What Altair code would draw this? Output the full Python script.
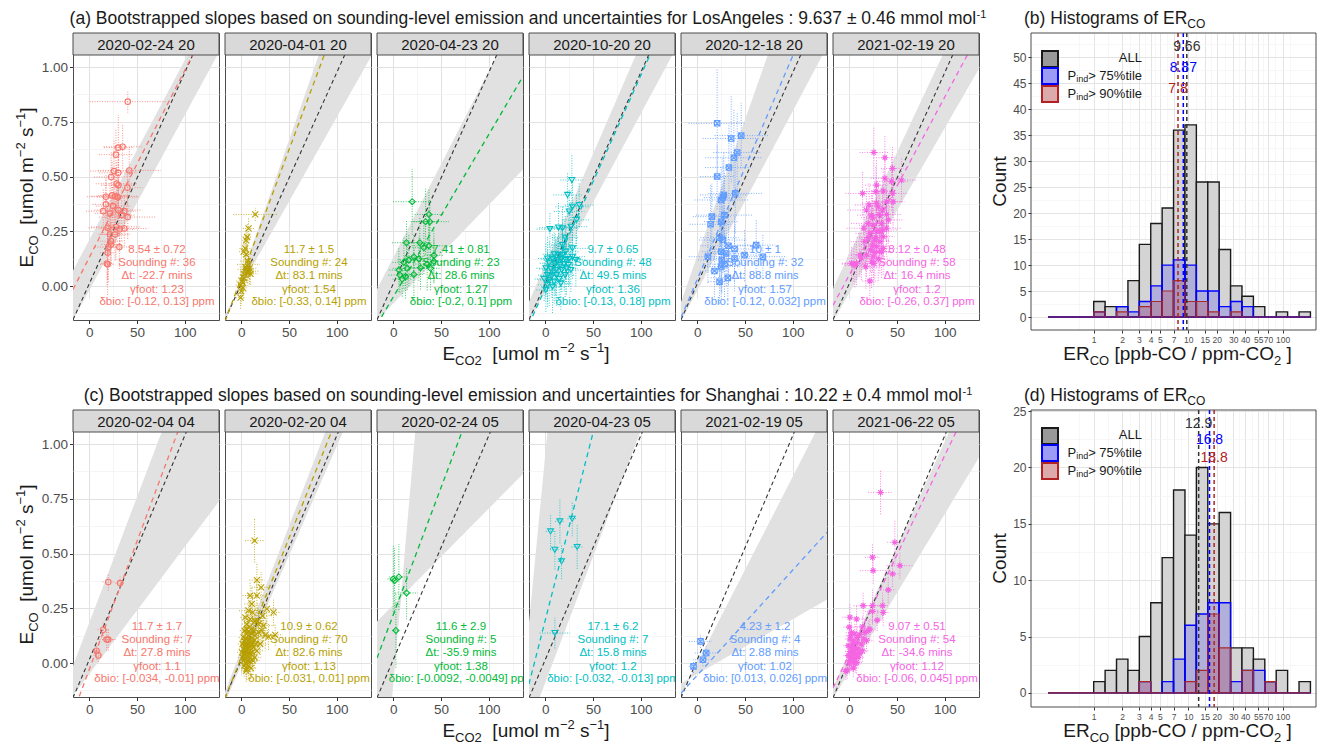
import altair as alt
import pandas as pd
import numpy as np

FONT = "Liberation Sans"
COLORS = ["#F8766D", "#B79F00", "#00BA38", "#00BFC4", "#619CFF", "#F564E3"]
SHAPES = ["circle", "M-1,-1L1,1M-1,1L1,-1", "diamond", "triangle-down",
          "M-1,-1L1,-1L1,1L-1,1ZM-1,-1L1,1M-1,1L1,-1",
          "M-1,0L1,0M0,-1L0,1M-0.7,-0.7L0.7,0.7M-0.7,0.7L0.7,-0.7"]
SHAPE_SIZES = [30, 36, 36, 34, 30, 42]

# ---------------- Los Angeles (row a) ----------------
LA_TITLE = "(a) Bootstrapped slopes based on sounding-level emission and uncertainties for LosAngeles : 9.637 \u00b1 0.46 mmol mol"
LA_DATES = ["2020-02-24 20", "2020-04-01 20", "2020-04-23 20", "2020-10-20 20", "2020-12-18 20", "2021-02-19 20"]
LA_BLACK = (0.009637, 0.01)
LA_SLOPE = [0.00854, 0.0117, 0.00741, 0.0097, 0.0102, 0.00812]
LA_ICPT = [0.13, 0.037, -0.05, -0.01, 0.03, 0.05]
LA_FAN = [[(0.0082, 0.21), (0.0080, -0.02)], [(0.0125, 0.04), (0.0077, 0.0)],
          [(0.0085, 0.13), (0.0045, -0.08)], [(0.01006, 0.099), (0.0081, -0.024)],
          [(0.0124, 0.138), (0.0082, -0.022)], [(0.00928, 0.146), (0.00754, -0.033)]]
LA_ANN = [["8.54 \u00b1 0.72", "Sounding #: 36", "\u0394t: -22.7 mins", "\u03b3foot: 1.23", "\u03b4bio: [-0.12, 0.13] ppm"],
          ["11.7 \u00b1 1.5", "Sounding #: 24", "\u0394t: 83.1 mins", "\u03b3foot: 1.54", "\u03b4bio: [-0.33, 0.14] ppm"],
          ["7.41 \u00b1 0.81", "Sounding #: 23", "\u0394t: 28.6 mins", "\u03b3foot: 1.27", "\u03b4bio: [-0.2, 0.1] ppm"],
          ["9.7 \u00b1 0.65", "Sounding #: 48", "\u0394t: 49.5 mins", "\u03b3foot: 1.36", "\u03b4bio: [-0.13, 0.18] ppm"],
          ["10 \u00b1 1", "Sounding #: 32", "\u0394t: 88.8 mins", "\u03b3foot: 1.57", "\u03b4bio: [-0.12, 0.032] ppm"],
          ["8.12 \u00b1 0.48", "Sounding #: 58", "\u0394t: 16.4 mins", "\u03b3foot: 1.2", "\u03b4bio: [-0.26, 0.37] ppm"]]
LA1 = [(40.4,0.842,40,0.05),(30.5,0.632,15,0.15),(35.0,0.636,20,0.10),(28.0,0.600,18,0.12),(42.0,0.528,33,0.10),(26.0,0.525,25,0.14),(30.5,0.517,20,0.08),(23.0,0.498,18,0.12),(28.8,0.467,22,0.10),(30.5,0.460,18,0.15),(40.0,0.449,16,0.08),(17.5,0.408,20,0.10),(27.0,0.410,25,0.12),(24.0,0.414,15,0.16),(30.0,0.406,22,0.10),(17.5,0.373,14,0.12),(14.7,0.342,18,0.10),(21.8,0.332,16,0.14),(30.5,0.347,25,0.12),(36.8,0.342,12,0.08),(40.4,0.315,30,0.10),(34.0,0.324,14,0.12),(19.3,0.266,20,0.12),(28.0,0.270,26,0.15),(32.0,0.259,16,0.10),(36.8,0.263,25,0.08),(21.8,0.236,12,0.14),(22.8,0.190,10,0.10),(20.0,0.178,14,0.16),(31.6,0.178,14,0.10),(19.3,0.152,8,0.12),(18.6,0.103,6,0.10),(19.3,0.099,8,0.14),(22.8,0.205,12,0.10),(27.0,0.236,16,0.12),(25.0,0.365,18,0.10)]
LA2 = [(14.7,0.327,23,0.03),(7.7,0.263,6,0.05),(6.3,0.224,5,0.06),(5.2,0.209,4,0.05),(4.2,0.172,6,0.06),(2.8,0.157,5,0.05),(5.2,0.145,6,0.06),(7.0,0.114,8,0.05),(7.7,0.099,12,0.06),(5.2,0.076,9,0.05),(8.7,0.068,10,0.06),(6.3,0.065,6,0.05),(7.0,0.061,8,0.06),(3.5,0.053,5,0.05),(0.7,0.023,6,0.05),(-0.7,0.005,5,0.05),(1.7,0.015,5,0.05),(0.0,-0.023,6,0.06),(-0.7,-0.053,5,0.05),(2.8,0.038,6,0.06),(9.8,0.056,8,0.05),(4.5,0.087,6,0.06),(1.7,-0.008,5,0.05),(8.7,0.081,7,0.05)]
LA3 = [(19.9,0.385,20,0.15),(37.4,0.327,15,0.12),(38.4,0.294,20,0.10),(33.9,0.294,12,0.15),(13.9,0.198,15,0.10),(27.9,0.198,12,0.12),(37.4,0.184,18,0.10),(32.1,0.175,12,0.12),(21.6,0.134,10,0.10),(16.4,0.119,12,0.12),(26.9,0.124,15,0.10),(42.6,0.140,10,0.12),(42.6,0.113,12,0.10),(35.6,0.100,15,0.12),(39.1,0.081,10,0.10),(11.2,0.108,12,0.12),(5.9,0.073,10,0.10),(7.0,0.050,12,0.08),(14.6,0.081,15,0.10),(21.6,0.053,10,0.12),(28.6,0.084,12,0.10),(9.4,0.032,10,0.08),(12.9,0.043,8,0.10)]
LA4 = [(27.9,0.484,12,0.12),(23.4,0.416,15,0.10),(28.6,0.362,18,0.12),(35.6,0.370,15,0.10),(32.8,0.302,14,0.12),(25.1,0.340,16,0.10),(4.9,0.260,14,0.08),(13.9,0.267,20,0.12),(18.1,0.264,15,0.10),(26.9,0.271,18,0.12),(20.9,0.221,14,0.10),(18.1,0.187,12,0.12),(28.6,0.172,16,0.10),(21.6,0.157,14,0.12),(2.4,0.126,10,0.10),(7.7,0.123,12,0.12),(12.9,0.119,14,0.10),(16.4,0.123,12,0.14),(21.6,0.119,15,0.10),(25.1,0.123,12,0.12),(4.2,0.104,10,0.10),(10.5,0.100,12,0.14),(15.3,0.096,14,0.10),(19.9,0.100,12,0.12),(24.4,0.096,10,0.10),(0.7,0.081,10,0.12),(5.9,0.078,12,0.10),(11.2,0.073,14,0.14),(17.4,0.073,12,0.10),(2.4,0.050,10,0.12),(7.0,0.047,12,0.10),(11.9,0.050,10,0.14),(-1.1,0.032,10,0.10),(4.2,0.028,12,0.12),(9.4,0.020,10,0.10),(14.6,0.032,12,0.12),(2.4,0.005,10,0.10),(7.7,-0.003,12,0.12),(0.7,-0.018,10,0.10),(28.6,0.134,14,0.10),(32.1,0.119,12,0.12),(14.0,0.142,12,0.10),(18.1,0.142,14,0.12),(9.4,0.145,12,0.10),(22.3,0.081,12,0.12),(26.9,0.073,14,0.10),(16.4,0.012,12,0.12),(20.9,0.050,10,0.10)]
LA5 = [(20.9,0.743,30,0.25),(35.6,0.674,30,0.20),(46.1,0.687,28,0.15),(41.9,0.610,25,0.18),(38.4,0.586,30,0.22),(33.2,0.541,25,0.20),(20.9,0.500,18,0.15),(39.8,0.423,28,0.18),(27.9,0.416,25,0.20),(25.1,0.393,28,0.15),(26.9,0.404,20,0.18),(28.6,0.324,30,0.20),(15.3,0.317,20,0.15),(14.0,0.282,22,0.18),(25.1,0.294,18,0.15),(23.4,0.221,20,0.18),(26.9,0.210,25,0.15),(32.8,0.184,30,0.18),(39.1,0.169,25,0.15),(61.8,0.187,20,0.12),(68.8,0.134,25,0.10),(49.6,0.142,20,0.12),(39.1,0.126,22,0.15),(25.1,0.157,20,0.18),(25.8,0.119,25,0.15),(11.2,0.134,20,0.12),(28.6,0.100,18,0.15),(18.1,0.069,15,0.12),(23.4,0.020,12,0.10),(32.1,0.038,18,0.12),(25.1,0.089,20,0.15),(30.4,0.149,22,0.15)]
LA6 = [(25.8,0.610,15,0.12),(37.4,0.586,12,0.10),(45.4,0.537,12,0.10),(37.4,0.492,15,0.10),(44.3,0.477,18,0.12),(54.8,0.484,15,0.10),(14.0,0.423,18,0.10),(27.9,0.431,15,0.12),(35.6,0.434,12,0.10),(45.4,0.423,15,0.10),(46.1,0.385,12,0.12),(28.6,0.378,15,0.10),(34.9,0.347,12,0.12),(18.1,0.347,20,0.10),(23.4,0.324,15,0.12),(31.4,0.327,12,0.10),(39.1,0.327,15,0.12),(19.9,0.286,18,0.10),(25.1,0.278,15,0.12),(33.9,0.286,12,0.10),(39.1,0.264,15,0.12),(28.6,0.249,12,0.10),(21.6,0.241,15,0.12),(35.6,0.226,12,0.10),(26.9,0.210,15,0.12),(32.1,0.203,12,0.10),(24.4,0.187,15,0.12),(28.6,0.180,12,0.10),(35.6,0.172,15,0.12),(22.3,0.165,12,0.10),(26.9,0.154,15,0.12),(32.1,0.157,12,0.10),(25.1,0.134,15,0.12),(30.4,0.124,12,0.10),(4.2,0.100,12,0.08),(5.9,0.094,10,0.10),(2.4,0.104,10,0.08),(7.7,0.104,12,0.10),(17.4,0.088,15,0.10),(25.8,0.104,12,0.10),(21.6,0.023,8,0.08),(11.2,0.142,12,0.10),(16.4,0.203,15,0.12),(32.1,0.249,12,0.10),(40.9,0.302,15,0.12),(20.9,0.370,15,0.10),(28.6,0.461,12,0.12),(18.1,0.142,12,0.10),(23.4,0.111,15,0.12),(27.9,0.221,12,0.10),(34.9,0.256,15,0.12),(15.3,0.264,18,0.10),(19.9,0.221,12,0.12),(39.1,0.385,15,0.10),(24.4,0.312,12,0.12),(30.4,0.362,15,0.10),(33.9,0.157,12,0.12),(12.9,0.127,15,0.10)]

# ---------------- Shanghai (row c) ----------------
SH_TITLE = "(c) Bootstrapped slopes based on sounding-level emission and uncertainties for Shanghai : 10.22 \u00b1 0.4 mmol mol"
SH_DATES = ["2020-02-04 04", "2020-02-20 04", "2020-02-24 05", "2020-04-23 05", "2021-02-19 05", "2021-06-22 05"]
SH_BLACK = (0.01022, 0.015)
SH_SLOPE = [0.0117, 0.0109, 0.0116, 0.0171, 0.0048, 0.00907]
SH_ICPT = [-0.03, 0.025, 0.22, 0.195, -0.056, 0.04]
SH_FAN = [[(0.01148, 0.183), (0.0058, -0.05)], [(0.0113, 0.06), (0.0100, -0.01)],
          [(0.05, -0.1), (0.0044, 0.265)], [(0.045, 0.95), (0.0115, -0.09)],
          [(0.0085, 0.0), (0.0025, -0.05)], [(0.0096, 0.05), (0.0072, -0.04)]]
SH_ANN = [["11.7 \u00b1 1.7", "Sounding #: 7", "\u0394t: 27.8 mins", "\u03b3foot: 1.1", "\u03b4bio: [-0.034, -0.01] ppm"],
          ["10.9 \u00b1 0.62", "Sounding #: 70", "\u0394t: 82.6 mins", "\u03b3foot: 1.13", "\u03b4bio: [-0.031, 0.01] ppm"],
          ["11.6 \u00b1 2.9", "Sounding #: 5", "\u0394t: -35.9 mins", "\u03b3foot: 1.38", "\u03b4bio: [-0.0092, -0.0049] ppm"],
          ["17.1 \u00b1 6.2", "Sounding #: 7", "\u0394t: 15.8 mins", "\u03b3foot: 1.2", "\u03b4bio: [-0.032, -0.013] ppm"],
          ["4.23 \u00b1 1.2", "Sounding #: 4", "\u0394t: 2.88 mins", "\u03b3foot: 1.02", "\u03b4bio: [0.013, 0.026] ppm"],
          ["9.07 \u00b1 0.51", "Sounding #: 54", "\u0394t: -34.6 mins", "\u03b3foot: 1.12", "\u03b4bio: [-0.06, 0.045] ppm"]]
SH1 = [(20.0,0.370,6,0.04),(32.3,0.365,5,0.03),(14.7,0.152,6,0.04),(18.2,0.107,10,0.05),(20.0,0.107,6,0.05),(7.7,0.056,5,0.04),(9.5,0.035,5,0.03)]
SH2 = [(14.0,0.559,10,0.10),(16.4,0.379,8,0.08),(20.9,0.346,10,0.07),(9.4,0.308,8,0.06),(16.4,0.308,10,0.07),(33.9,0.231,8,0.06),(7.7,0.239,10,0.08),(22.3,0.216,12,0.06),(17.4,0.193,10,0.07),(35.6,0.129,8,0.05),(18.1,0.140,10,0.06),(4.2,0.209,5,0.05),(5.9,0.178,5,0.06),(8.4,0.163,6,0.05),(3.5,0.148,5,0.06),(7.0,0.140,6,0.05),(11.2,0.133,7,0.06),(2.4,0.117,5,0.05),(4.9,0.110,5,0.06),(7.7,0.102,6,0.05),(10.5,0.099,7,0.06),(14.0,0.105,8,0.05),(1.4,0.087,5,0.05),(4.2,0.084,5,0.06),(6.6,0.079,6,0.05),(9.4,0.075,6,0.06),(12.9,0.072,7,0.05),(2.4,0.064,5,0.05),(4.9,0.056,5,0.06),(7.7,0.053,6,0.05),(11.2,0.049,7,0.06),(3.5,0.041,5,0.05),(5.9,0.034,5,0.06),(8.4,0.029,6,0.05),(4.2,0.018,5,0.05),(7.0,0.011,6,0.06),(9.4,0.008,6,0.05),(4.9,-0.004,5,0.05),(7.7,-0.012,6,0.06),(5.9,-0.027,5,0.05),(12.9,0.148,7,0.06),(14.6,0.193,8,0.07),(11.2,0.270,8,0.08),(26.9,0.247,10,0.07),(21.6,0.148,8,0.06),(25.1,0.126,10,0.06),(15.3,0.087,8,0.05),(16.4,0.056,8,0.05),(28.6,0.120,10,0.06),(18.1,0.178,8,0.07),(0.7,0.049,5,0.05),(2.4,0.011,5,0.05),(10.1,-0.023,6,0.05),(14.0,0.026,7,0.05),(5.9,0.155,5,0.06),(9.4,0.201,6,0.07),(11.9,0.231,7,0.08),(23.4,0.171,10,0.07),(19.9,0.087,8,0.05),(3.5,0.099,5,0.05),(6.3,0.069,5,0.05),(8.7,0.044,6,0.05),(10.8,0.087,7,0.06),(1.4,0.026,5,0.05),(7.3,0.125,6,0.06),(12.2,0.011,7,0.05),(3.1,-0.012,5,0.05),(5.2,-0.035,5,0.05),(14.6,0.125,8,0.06)]
SH3 = [(0.0,0.384,6,0.15),(5.9,0.393,10,0.15),(14.0,0.320,12,0.12),(2.8,0.149,4,0.17),(1.4,0.376,5,0.15)]
SH4 = [(5.6,0.601,5,0.08),(15.4,0.647,5,0.10),(28.3,0.659,5,0.08),(10.1,0.517,5,0.09),(17.1,0.464,4,0.08),(33.5,0.530,6,0.10),(10.1,0.137,16,0.07)]
SH5 = [(3.5,0.099,12,0.03),(9.4,0.046,12,0.03),(5.9,0.015,8,0.03),(-3.9,-0.015,5,0.03)]
SH6 = [(32.8,0.779,13,0.10),(47.8,0.551,8,0.10),(24.4,0.483,8,0.06),(53.1,0.445,14,0.06),(25.1,0.422,14,0.06),(45.4,0.407,8,0.06),(40.9,0.334,8,0.06),(14.6,0.262,10,0.06),(24.4,0.262,8,0.08),(34.9,0.262,6,0.06),(24.4,0.236,8,0.06),(35.6,0.231,6,0.06),(0.7,0.209,8,0.06),(7.7,0.201,8,0.06),(29.3,0.196,6,0.05),(14.0,0.166,8,0.05),(21.6,0.155,8,0.05),(0.0,0.164,6,0.05),(2.4,0.140,6,0.05),(5.9,0.133,6,0.05),(11.2,0.129,8,0.05),(15.3,0.110,8,0.05),(0.7,0.110,5,0.05),(4.2,0.102,6,0.05),(8.4,0.094,6,0.05),(-1.1,0.079,5,0.04),(2.4,0.072,5,0.05),(5.9,0.069,6,0.05),(9.4,0.064,6,0.05),(0.7,0.053,5,0.04),(3.5,0.044,5,0.05),(7.0,0.041,6,0.05),(-1.1,0.034,5,0.04),(2.4,0.026,5,0.05),(5.9,0.021,6,0.05),(9.4,0.026,6,0.05),(0.7,0.011,5,0.04),(4.2,0.008,5,0.05),(7.7,0.003,6,0.05),(-2.1,-0.032,5,0.04),(-3.5,-0.038,5,0.04),(12.9,0.087,8,0.05),(18.1,0.102,8,0.05),(16.4,0.140,8,0.05),(3.5,0.087,5,0.05),(4.9,0.056,5,0.05),(0.0,-0.004,5,0.04),(11.2,0.044,6,0.05),(8.4,0.117,6,0.05),(14.0,0.056,8,0.05),(1.4,0.125,5,0.05),(19.9,0.148,8,0.05),(6.3,-0.004,5,0.04),(4.2,-0.023,5,0.04)]

# ---------------- Histograms ----------------
LOG_BIN_WIDTH = 0.1207
BIN_K = list(range(-4, 19))
B_ALL = [0,0,0,0,3,2,2,7,14,18,21,36,37,26,26,13,6,4,2,0,1,0,1]
B_75 = [0,0,0,0,1,0,2,1,3,6,10,11,10,5,5,2,3,2,0,0,0,0,0]
B_90 = [0,0,0,0,1,0,1,0,2,3,5,7,3,3,1,0,1,0,0,0,0,0,0]
B_LINES = [9.66, 8.87, 7.8]
B_LABELS = ["9.66", "8.87", "7.8"]
B_LABEL_Y = [52, 48, 44]
D_ALL = [0,0,0,0,1,2,3,2,5,8,12,18,14,20,15,16,4,4,3,1,2,0,1]
D_75 = [0,0,0,0,0,0,0,0,1,0,1,3,6,7,8,8,1,2,2,1,0,0,0]
D_90 = [0,0,0,0,0,0,0,0,1,0,0,0,1,2,7,4,0,2,0,1,0,0,0]
D_LINES = [12.9, 16.8, 18.8]
D_LABELS = ["12.9", "16.8", "18.8"]
D_LABEL_Y = [23.9, 22.4, 20.8]
LINE_COLORS = ["#333333", "#0000ff", "#b22222"]
HX_MAJOR = [1, 2, 3, 4, 5, 7, 10, 15, 20, 30, 40, 55, 70, 100]
HX_MINOR = [0.707, 1.41, 2.45, 3.46, 4.47, 5.92, 8.37, 12.2, 17.3, 24.5, 34.6, 46.9, 62.0, 83.7, 119.5]

# ---------------- layout constants ----------------
PW, STRIP, PH = 146, 22, 265
CH = STRIP + PH
GAP = 6
XDOM = [-17, 136]
YDOM = [-0.155, 1.055]
ANN_X = 71
ANN_Y = [0.165, 0.105, 0.046, -0.018, -0.073]
HOFF, HW, HH = 46, 285, 297
HTOT = HOFF + HW
FAN_GREY = "#e1e1e1"
TITLE_SIZE = 17.5
ONE = pd.DataFrame({"k": [0]})

CW = {' ': .278, '(': .333, ')': .333, '-': .333, '.': .278, '/': .278, ':': .278, '[': .278, ']': .278,
      '>': .584, '%': .889, '\u00b1': .584, '\u2212': .584, '#': .556,
      'A': .667, 'B': .667, 'C': .722, 'D': .722, 'E': .667, 'F': .611, 'G': .778, 'H': .722, 'I': .278,
      'L': .556, 'M': .833, 'N': .722, 'O': .778, 'P': .667, 'R': .722, 'S': .667, 'T': .611,
      'a': .556, 'b': .556, 'c': .5, 'd': .556, 'e': .556, 'f': .278, 'g': .556, 'h': .556, 'i': .222,
      'j': .222, 'k': .5, 'l': .222, 'm': .833, 'n': .556, 'o': .556, 'p': .556, 'q': .556, 'r': .333,
      's': .5, 't': .278, 'u': .556, 'v': .5, 'w': .722, 'x': .5, 'y': .5, 'z': .5}


def tw(s, size):
    return sum(CW.get(ch, 0.556) for ch in s) * size


def rich(parts, x, y, align="center", angle=0, color="#1a1a1a", baseline="alphabetic"):
    widths = [tw(t, sz) for t, sz, _ in parts]
    total = sum(widths)
    cur = {"left": 0.0, "center": -total / 2, "right": -total}[align]
    out = []
    for (t, sz, sh), w in zip(parts, widths):
        lead = len(t) - len(t.lstrip(" "))
        shown = t.strip(" ")
        kw = dict(text=shown, fontSize=sz, dx=cur + tw(" " * lead, sz), dy=sh, align="left",
                  baseline=baseline, color=color)
        if angle:
            kw["angle"] = angle
        out.append(alt.Chart(ONE).mark_text(**kw).encode(x=alt.value(x), y=alt.value(y)))
        cur += w
    return out


def cond(test, a, b):
    return {"condition": {"test": test, "value": a}, "value": b}


X_MAJ = "datum.value % 50 === 0"
Y_MAJ = "abs(datum.value*4 - round(datum.value*4)) < 0.001"
XAX = alt.Axis(values=[0, 25, 50, 75, 100, 125], labelExpr=f"{X_MAJ} ? datum.label : ''", title=None,
               domain=False, tickSize=3.5, tickColor="#333333", tickOpacity=cond(X_MAJ, 1, 0),
               labelFontSize=13.5, labelColor="#4d4d4d", labelPadding=2, labelFlush=False,
               labelOverlap=False, gridColor=cond(X_MAJ, "#e2e2e2", "#f1f1f1"),
               gridWidth=cond(X_MAJ, 1.1, 0.7))
YVALS = [-0.125, 0, 0.125, 0.25, 0.375, 0.5, 0.625, 0.75, 0.875, 1.0]
YAX_FIRST = alt.Axis(values=YVALS, labelExpr=f"{Y_MAJ} ? format(datum.value, '.2f') : ''", title=None,
                     domain=False, tickSize=3.5, tickColor="#333333", tickOpacity=cond(Y_MAJ, 1, 0),
                     labelFontSize=13.5, labelColor="#4d4d4d", labelPadding=2, labelOverlap=False,
                     gridColor=cond(Y_MAJ, "#e2e2e2", "#f1f1f1"), gridWidth=cond(Y_MAJ, 1.1, 0.7))
YAX_OTHER = alt.Axis(values=YVALS, labels=False, ticks=False, title=None, domain=False,
                     gridColor=cond(Y_MAJ, "#e2e2e2", "#f1f1f1"), gridWidth=cond(Y_MAJ, 1.1, 0.7))


def panel(row, i):
    col = COLORS[i]
    xsc = alt.Scale(domain=XDOM, nice=False, zero=False)
    ysc = alt.Scale(domain=YDOM, range=[CH, STRIP], nice=False, zero=False)
    yax = YAX_FIRST if i == 0 else YAX_OTHER

    def X(f):
        return alt.X(f"{f}:Q", scale=xsc, axis=XAX)

    def Y(f):
        return alt.Y(f"{f}:Q", scale=ysc, axis=yax)

    (s1, b1), (s2, b2) = row["fan"][i]
    xs = np.linspace(XDOM[0], XDOM[1], 61)
    l1, l2 = s1 * xs + b1, s2 * xs + b2
    fan_df = pd.DataFrame({"x": xs, "lo": np.minimum(l1, l2), "hi": np.maximum(l1, l2)})
    bs, bb = row["black"]
    s, b = row["slope"][i], row["icpt"][i]
    line_df = pd.DataFrame({"x": XDOM, "yb": [bs * v + bb for v in XDOM], "yc": [s * v + b for v in XDOM]})
    pts = pd.DataFrame(row["pts"][i], columns=["x", "y", "xe", "ye"])
    pts["xa"] = pts.x - pts.xe
    pts["xb"] = pts.x + pts.xe
    pts["ya"] = pts.y - pts.ye
    pts["yb"] = pts.y + pts.ye
    ann_df = pd.DataFrame({"t": row["ann"][i], "y": ANN_Y, "x": [ANN_X] * 5})
    strip_df = pd.DataFrame({"label": [row["dates"][i]]})

    layers = [
        alt.Chart(fan_df).mark_area(color=FAN_GREY, clip=True).encode(x=X("x"), y=Y("lo"), y2="hi"),
        alt.Chart(line_df).mark_line(color="#333333", strokeDash=[4, 3], strokeWidth=1.1, clip=True)
        .encode(x=X("x"), y=Y("yb")),
        alt.Chart(line_df).mark_line(color=col, strokeDash=[5, 4], strokeWidth=1.3, clip=True)
        .encode(x=X("x"), y=Y("yc")),
        alt.Chart(pts).mark_rule(color=col, strokeDash=[1, 1.5], strokeWidth=0.8, clip=True)
        .encode(x=X("xa"), x2="xb", y=Y("y")),
        alt.Chart(pts).mark_rule(color=col, strokeDash=[1, 1.5], strokeWidth=0.8, clip=True)
        .encode(x=X("x"), y=Y("ya"), y2="yb"),
        alt.Chart(pts).mark_point(shape=SHAPES[i], filled=False, size=SHAPE_SIZES[i], strokeWidth=1.1,
                                  color=col, opacity=1, clip=True).encode(x=X("x"), y=Y("y")),
        alt.Chart(ann_df).mark_text(color=col, fontSize=11.5, baseline="middle", clip=True)
        .encode(x=X("x"), y=Y("y"), text="t:N"),
        alt.Chart(strip_df).mark_rect(fill="#d9d9d9", stroke="#4d4d4d", strokeWidth=1)
        .encode(x=alt.value(0), x2=alt.value(PW), y=alt.value(0), y2=alt.value(STRIP)),
        alt.Chart(strip_df).mark_text(fontSize=15, color="#1a1a1a", baseline="middle")
        .encode(x=alt.value(PW / 2), y=alt.value(STRIP / 2 + 0.5), text="label:N"),
    ]
    if i == 0:
        center = (6 * PW + 5 * GAP) / 2
        layers += rich([(row["title"], TITLE_SIZE, 0), ("-1", 11, -6)], center + 2, -9)
        layers += rich([("E", 19, 0), ("CO", 13, 5), ("  [umol m", 19, 0), ("\u22122", 13, -8),
                        (" s", 19, 0), ("\u22121", 13, -8), ("]", 19, 0)], -40, STRIP + PH / 2, angle=270)
        layers += rich([("E", 19, 0), ("CO2", 13, 5), ("  [umol m", 19, 0), ("\u22122", 13, -8),
                        (" s", 19, 0), ("\u22121", 13, -8), ("]", 19, 0)], center, CH + 40)
        for xv, y1v in [(-64, 100), (10, -24), (10, CH + 48)]:
            layers.append(alt.Chart(ONE).mark_rule(strokeOpacity=0, opacity=0)
                          .encode(x=alt.value(xv), y=alt.value(y1v), y2=alt.value(y1v + 1)))
    return alt.layer(*layers).properties(width=PW, height=CH)


def hist(letter, c_all, c75, c90, lines, labels, label_y, ydom, ymax):
    lo = [10 ** (k * LOG_BIN_WIDTH) for k in BIN_K]
    hi = [10 ** ((k + 1) * LOG_BIN_WIDTH) for k in BIN_K]
    df = pd.DataFrame({"lo": lo, "hi": hi, "all": c_all, "p75": c75, "p90": c90, "zero": 0})
    xsc = alt.Scale(type="log", domain=[0.217, 225], range=[HOFF, HTOT], nice=False)
    ysc = alt.Scale(domain=ydom, nice=False, zero=False)
    hx_test = f"indexof({HX_MAJOR}, datum.value) >= 0"
    hxax = alt.Axis(values=HX_MAJOR + HX_MINOR, labelExpr=f"{hx_test} ? format(datum.value, '~g') : ''",
                    title=None, domain=False, tickSize=3, tickColor="#333333", tickOpacity=cond(hx_test, 1, 0),
                    labelFontSize=8.5, labelColor="#4d4d4d", labelPadding=2, labelFlush=False,
                    labelOverlap=False, gridColor=cond(hx_test, "#e4e4e4", "#f1f1f1"),
                    gridWidth=cond(hx_test, 1.0, 0.6))
    yv = [k * 2.5 for k in range(0, int(ymax / 2.5) + 1)]
    y_test = "datum.value % 5 === 0"
    hyax = alt.Axis(values=yv, labelExpr=f"{y_test} ? datum.label : ''", title=None, domain=False,
                    tickSize=3, tickColor="#333333", tickOpacity=cond(y_test, 1, 0), labelFontSize=12,
                    labelColor="#4d4d4d", labelPadding=2, offset=-HOFF, labelOverlap=False,
                    gridColor=cond(y_test, "#e4e4e4", "#f1f1f1"), gridWidth=cond(y_test, 1.0, 0.6))

    def X(f):
        return alt.X(f"{f}:Q", scale=xsc, axis=hxax)

    def Y(f):
        return alt.Y(f"{f}:Q", scale=ysc, axis=hyax)

    ldf = pd.DataFrame({"v": lines, "t": labels, "ly": label_y, "c": LINE_COLORS})
    layers = [
        alt.Chart(df).mark_rect(fill="#d4d4d4", stroke="#1a1a1a", strokeWidth=1.4)
        .encode(x=X("lo"), x2="hi", y=Y("all"), y2="zero"),
        alt.Chart(df).mark_rect(fill="#0000ff", fillOpacity=0.17, stroke="#0000ff", strokeWidth=1.4)
        .encode(x=X("lo"), x2="hi", y=Y("p75"), y2="zero"),
        alt.Chart(df).mark_rect(fill="#b22222", fillOpacity=0.22, stroke="#a52a2a", strokeWidth=1.1)
        .encode(x=X("lo"), x2="hi", y=Y("p90"), y2="zero"),
        alt.Chart(ldf).mark_rule(strokeDash=[4, 3], strokeWidth=1.5)
        .encode(x=X("v"), color=alt.Color("c:N", scale=None)),
        alt.Chart(ldf).mark_text(fontSize=14, baseline="middle")
        .encode(x=X("v"), y=Y("ly"), text="t:N", color=alt.Color("c:N", scale=None)),
        alt.Chart(ONE).mark_rect(fillOpacity=0, stroke="#4d4d4d", strokeWidth=1)
        .encode(x=alt.value(HOFF), x2=alt.value(HTOT), y=alt.value(0), y2=alt.value(HH)),
    ]
    sw = [("#999999", "#1a1a1a", 18), ("#9c9cf7", "#0000ff", 35), ("#dcaaaa", "#b22222", 53)]
    for fill, stroke, top in sw:
        layers.append(alt.Chart(ONE).mark_rect(fill=fill, stroke=stroke, strokeWidth=2)
                      .encode(x=alt.value(HOFF + 11), x2=alt.value(HOFF + 27),
                              y=alt.value(top), y2=alt.value(top + 16)))
    lx = HOFF + 111
    layers += rich([("ALL", 13, 0)], lx, 25, align="right", baseline="middle")
    layers += rich([("P", 13, 0), ("ind", 9, 3), ("> 75%tile", 13, 0)], lx, 43, align="right", baseline="middle")
    layers += rich([("P", 13, 0), ("ind", 9, 3), ("> 90%tile", 13, 0)], lx, 61, align="right", baseline="middle")
    layers += rich([(f"({letter}) Histograms of ER", TITLE_SIZE, 0), ("CO", 12, 4)], HOFF - 7, -9, align="left")
    layers += rich([("ER", 19, 0), ("CO", 13, 5), (" [ppb-CO / ppm-CO", 19, 0), ("2", 13, 5), (" ]", 19, 0)],
                   HOFF + HW / 2 + 4, CH + 40)
    layers += rich([("Count", 19, 0)], 21, HH / 2, angle=270)
    return alt.layer(*layers).properties(width=HTOT, height=HH,
                                         view=alt.ViewBackground(strokeOpacity=0))


LA = dict(title=LA_TITLE, dates=LA_DATES, black=LA_BLACK, slope=LA_SLOPE, icpt=LA_ICPT, fan=LA_FAN,
          ann=LA_ANN, pts=[LA1, LA2, LA3, LA4, LA5, LA6])
SH = dict(title=SH_TITLE, dates=SH_DATES, black=SH_BLACK, slope=SH_SLOPE, icpt=SH_ICPT, fan=SH_FAN,
          ann=SH_ANN, pts=[SH1, SH2, SH3, SH4, SH5, SH6])

row1 = alt.hconcat(*[panel(LA, i) for i in range(6)],
                   hist("b", B_ALL, B_75, B_90, B_LINES, B_LABELS, B_LABEL_Y, [-2.5, 54.7], 52.5),
                   spacing=GAP, bounds="flush")
row2 = alt.hconcat(*[panel(SH, i) for i in range(6)],
                   hist("d", D_ALL, D_75, D_90, D_LINES, D_LABELS, D_LABEL_Y, [-1.25, 25.1], 25),
                   spacing=GAP, bounds="flush")

chart = (alt.vconcat(row1, row2, spacing=15)
         .properties(padding=0)
         .configure(font=FONT)
         .configure_view(stroke="#4d4d4d", strokeWidth=1))

chart.save("out.html", embed_options={"renderer": "svg", "actions": False})
